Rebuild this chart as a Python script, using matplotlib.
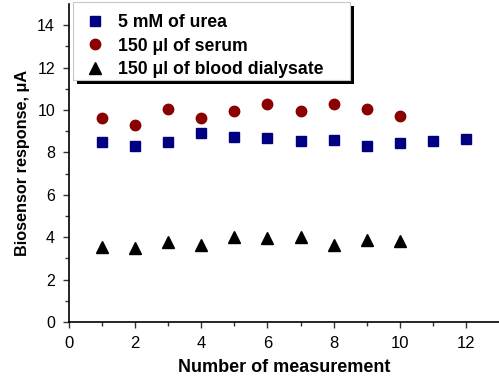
import matplotlib
matplotlib.use("Agg")
import matplotlib.pyplot as plt
from matplotlib.patches import Rectangle

plt.rcParams['font.family'] = ['Liberation Sans', 'DejaVu Sans']

x_urea = [1, 2, 3, 4, 5, 6, 7, 8, 9, 10, 11, 12]
y_urea = [8.50, 8.32, 8.49, 8.90, 8.73, 8.69, 8.54, 8.60, 8.30, 8.43, 8.54, 8.62]
x_serum = [1, 2, 3, 4, 5, 6, 7, 8, 9, 10]
y_serum = [9.64, 9.31, 10.05, 9.64, 9.95, 10.30, 9.95, 10.27, 10.05, 9.73]
x_dial = [1, 2, 3, 4, 5, 6, 7, 8, 9, 10]
y_dial = [3.55, 3.47, 3.77, 3.65, 4.00, 3.96, 4.02, 3.63, 3.87, 3.82]
labels = ["5 mM of urea", "150 \u03bcl of serum", "150 \u03bcl of blood dialysate"]
xticks = [0, 2, 4, 6, 8, 10, 12]
yticks = [0, 2, 4, 6, 8, 10, 12, 14]

W, H = 499, 378
fig = plt.figure(figsize=(W / 100, H / 100), dpi=100)
ax = fig.add_axes([69 / W, (H - 322) / H, (W - 69) / W, (322 - 4) / H])
ax.set_facecolor('white')

ax.plot(x_urea, y_urea, 's', color='#000080', ms=7, label=labels[0], linestyle='none')
ax.plot(x_serum, y_serum, 'o', color='#8B0000', ms=7.5, label=labels[1], linestyle='none')
ax.plot(x_dial, y_dial, '^', color='black', ms=8.5, label=labels[2], linestyle='none')

ax.set_xlim(0, 13)
ax.set_ylim(0, 15)
ax.set_xticks(xticks)
ax.set_yticks(yticks)
ax.set_xticks(range(1, 13, 2), minor=True)
ax.set_yticks(range(1, 15, 2), minor=True)
for s in ['top', 'right']:
    ax.spines[s].set_visible(False)
for s in ['left', 'bottom']:
    ax.spines[s].set_linewidth(1.2)
ax.tick_params(axis='both', which='major', direction='out', length=4, width=1, pad=3, color='#333333')
ax.tick_params(axis='both', which='minor', direction='out', length=3, width=1, color='#333333')
ax.tick_params(axis='x', which='major', labelsize=12, pad=6)
ax.tick_params(axis='y', which='major', labelsize=11.5, pad=6)

ax.set_xlabel("Number of measurement", fontsize=13, fontweight='bold', labelpad=6)
ax.set_ylabel("Biosensor response, \u03bcA", fontsize=11.7, fontweight='bold', labelpad=5)

# legend frame with Origin-style drop shadow (pixel coordinates)
fx0, fy_top, fx1, fy_bot = 73, 2, 350, 80
frame = Rectangle((fx0, H - fy_bot), fx1 - fx0, fy_bot - fy_top, transform=None,
                  facecolor='white', edgecolor='#c8c8c8', linewidth=0.8, zorder=9.5, clip_on=False)
shadow = Rectangle((fx0 + 4, H - fy_bot - 4), fx1 - fx0, fy_bot - fy_top, transform=None,
                   facecolor='black', edgecolor='none', zorder=9, clip_on=False)
ax.add_artist(shadow)
ax.add_artist(frame)

leg = ax.legend(loc='upper left', bbox_to_anchor=(84.5 / W, 1 - 14 / H),
                bbox_transform=fig.transFigure, borderaxespad=0,
                prop={'weight': 'bold', 'size': 12.7}, frameon=False,
                borderpad=0, labelspacing=0.37,
                handletextpad=0.7, handlelength=1.2, numpoints=1)
leg.set_zorder(10)

fig.savefig("out.png", dpi=100)
